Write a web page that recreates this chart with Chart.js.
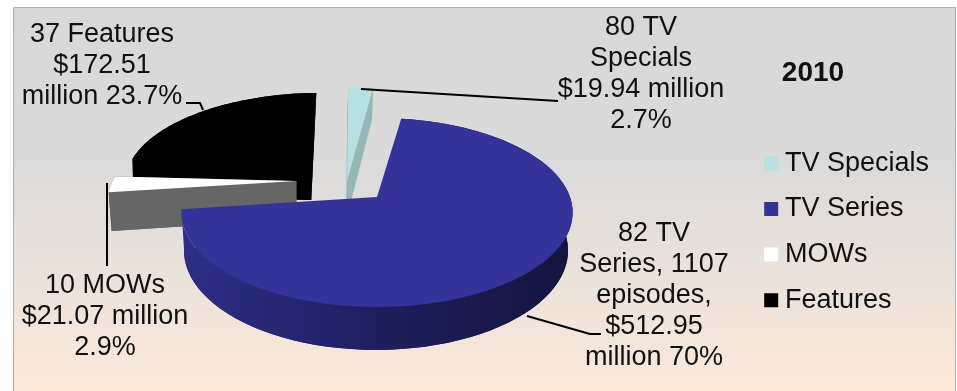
<!DOCTYPE html>
<html>
<head>
<meta charset="utf-8">
<style>
html,body{margin:0;padding:0;background:#fff;}
canvas{display:block;}
</style>
<script src="https://cdn.jsdelivr.net/npm/chart.js@4/dist/chart.umd.min.js"></script>
</head>
<body>
<div style="width:957px;height:391px;position:relative"><canvas id="c" width="957" height="391"></canvas></div>
<script>
// Production spend by category, 2010 ($ millions)
const categories = ['TV Specials', 'TV Series', 'MOWs', 'Features'];
const spendMillions = [19.94, 512.95, 21.07, 172.51];
const topColors = ['#b7e0e2', '#333399', '#ffffff', '#000000'];
const chartTitle = '2010';

const featuresLabel = ['37 Features', '$172.51', 'million 23.7%'];
const specialsLabel = ['80 TV', 'Specials', '$19.94 million', '2.7%'];
const mowsLabel = ['10 MOWs', '$21.07 million', '2.9%'];
const seriesLabel = ['82 TV', 'Series, 1107', 'episodes,', '$512.95', 'million 70%'];

// Callout placement: centre x, middle y of each text line, leader polyline
const callouts = [
  {lines: featuresLabel, x: 102, y: [35, 66, 97], leader: [[186,103],[200,103],[203,110]]},
  {lines: specialsLabel, x: 641, y: [28, 59, 90, 121], leader: [[361,89],[558,101]]},
  {lines: mowsLabel, x: 105, y: [285.5, 316.5, 347.5], leader: [[107,183],[107,266]]},
  {lines: seriesLabel, x: 654, y: [234, 265, 296, 327, 358], leader: [[527,316],[590,334],[601,334]]}
];

// Perspective of the disc: top face and bottom face of the extruded pie
const topPlane = {cx: 377, cy: 197, rx: 193, ry: 92, k: 0.164};
const basePlane = {cx: 376, cy: 236, rx: 190, ry: 97.4, k: 0.145};
// Explosion of each slice in disc units, with its radial stretch across and along the view
const explode = [
  {du: -0.16, dv: -0.18, su: 0.92, sv: 1.29},
  {du: 0, dv: 0, su: 1, sv: 1},
  {du: -0.43, dv: -0.18, su: 0.98, sv: 1},
  {du: -0.36, dv: -0.39, su: 1, sv: 1}
];
const paintOrder = [3, 0, 2, 1];
const wallColors = ['#94b7b7', null, '#666666', '#000000'];

function project(p, u, v) {
  const w = 1 - p.k * v;
  return [p.cx + p.rx * u / w, p.cy + p.ry * v / w];
}
function rimPath(plane, arc, e) {
  const pts = [], n = 80;
  for (let i = 0; i <= n; i++) {
    const a = arc.startAngle + (arc.endAngle - arc.startAngle) * i / n;
    pts.push(project(plane, e.du + e.su * Math.cos(a), e.dv + e.sv * Math.sin(a)));
  }
  return pts;
}
function fillPoly(ctx, pts, fill) {
  ctx.beginPath();
  pts.forEach((q, i) => i ? ctx.lineTo(q[0], q[1]) : ctx.moveTo(q[0], q[1]));
  ctx.closePath();
  ctx.fillStyle = fill;
  ctx.fill();
}

// Renders the pie as an extruded disc from the angles computed by the doughnut controller
const disc3d = {
  id: 'disc3d',
  beforeDatasetsDraw(chart) {
    const ctx = chart.ctx, arcs = chart.getDatasetMeta(0).data;
    ctx.save();
    paintOrder.forEach(i => {
      const arc = arcs[i], e = explode[i];
      const topRim = rimPath(topPlane, arc, e);
      const baseRim = rimPath(basePlane, arc, e);
      const topApex = project(topPlane, e.du, e.dv);
      const baseApex = project(basePlane, e.du, e.dv);
      let wall = wallColors[i];
      if (!wall) {
        wall = ctx.createLinearGradient(180, 0, 573, 0);
        wall.addColorStop(0, '#2e2e88');
        wall.addColorStop(0.5, '#1f1f5f');
        wall.addColorStop(1, '#14143e');
      }
      fillPoly(ctx, [baseApex, ...baseRim], wall);
      if (wallColors[i]) {
        fillPoly(ctx, [topApex, topRim[0], baseRim[0], baseApex], wall);
        fillPoly(ctx, [topApex, topRim[80], baseRim[80], baseApex], wall);
      }
      fillPoly(ctx, [...topRim, ...baseRim.slice().reverse()], wall);
      fillPoly(ctx, [topApex, ...topRim], topColors[i]);
    });
    ctx.restore();
    return false;
  },
  afterDraw(chart) {
    const ctx = chart.ctx;
    ctx.save();
    ctx.strokeStyle = '#000';
    ctx.lineWidth = 2;
    ctx.lineJoin = 'round';
    callouts.forEach(c => {
      ctx.beginPath();
      c.leader.forEach((q, i) => i ? ctx.lineTo(q[0], q[1]) : ctx.moveTo(q[0], q[1]));
      ctx.stroke();
    });
    ctx.fillStyle = '#111';
    ctx.font = '27px "Liberation Sans"';
    ctx.textAlign = 'center';
    ctx.textBaseline = 'middle';
    callouts.forEach(c => c.lines.forEach((t, i) => ctx.fillText(t, c.x, c.y[i])));
    ctx.restore();
  }
};

// Slide backdrop and frame
const backdrop = {
  id: 'backdrop',
  beforeDraw(chart) {
    const ctx = chart.ctx;
    const g = ctx.createLinearGradient(0, 8, 0, 391);
    g.addColorStop(0, '#d8d8d8');
    g.addColorStop(0.4, '#dadada');
    g.addColorStop(1, '#fce9da');
    ctx.save();
    ctx.fillStyle = '#fff';
    ctx.fillRect(0, 0, 957, 391);
    ctx.fillStyle = g;
    ctx.fillRect(14, 8, 941, 383);
    ctx.strokeStyle = '#b0b0b0';
    ctx.lineWidth = 1;
    ctx.beginPath();
    ctx.moveTo(13.5, 391);
    ctx.lineTo(13.5, 7.5);
    ctx.lineTo(955.5, 7.5);
    ctx.lineTo(955.5, 391);
    ctx.stroke();
    ctx.restore();
  }
};

// Pins the legend and title blocks in the right-hand column
const sideColumn = {
  id: 'sideColumn',
  afterLayout(chart) {
    const lg = chart.legend;
    lg.update(300, 391, {left: 0, right: 0, top: 0, bottom: 0});
    lg.left = 752.25;
    lg.right = lg.left + lg.width;
    lg.top = 131;
    lg.bottom = lg.top + lg.height;
    const t = chart.titleBlock;
    t.left = 713; t.right = 913; t.top = 56; t.bottom = 90;
  }
};

new Chart(document.getElementById('c'), {
  type: 'pie',
  data: {
    labels: categories,
    datasets: [{data: spendMillions, backgroundColor: topColors, borderWidth: 0}]
  },
  options: {
    responsive: false,
    animation: false,
    rotation: -1.5,
    plugins: {
      tooltip: {enabled: false},
      title: {display: true, text: chartTitle, color: '#111', padding: 0,
              font: {family: '"Liberation Sans"', size: 28, weight: 'bold'}},
      legend: {
        position: 'right',
        align: 'start',
        labels: {
          usePointStyle: true, pointStyle: 'rect', boxWidth: 0.5, boxHeight: 14,
          padding: 18.7, color: '#111',
          font: {family: '"Liberation Sans"', size: 27}
        }
      }
    }
  },
  plugins: [backdrop, disc3d, sideColumn]
});
</script>
</body>
</html>
